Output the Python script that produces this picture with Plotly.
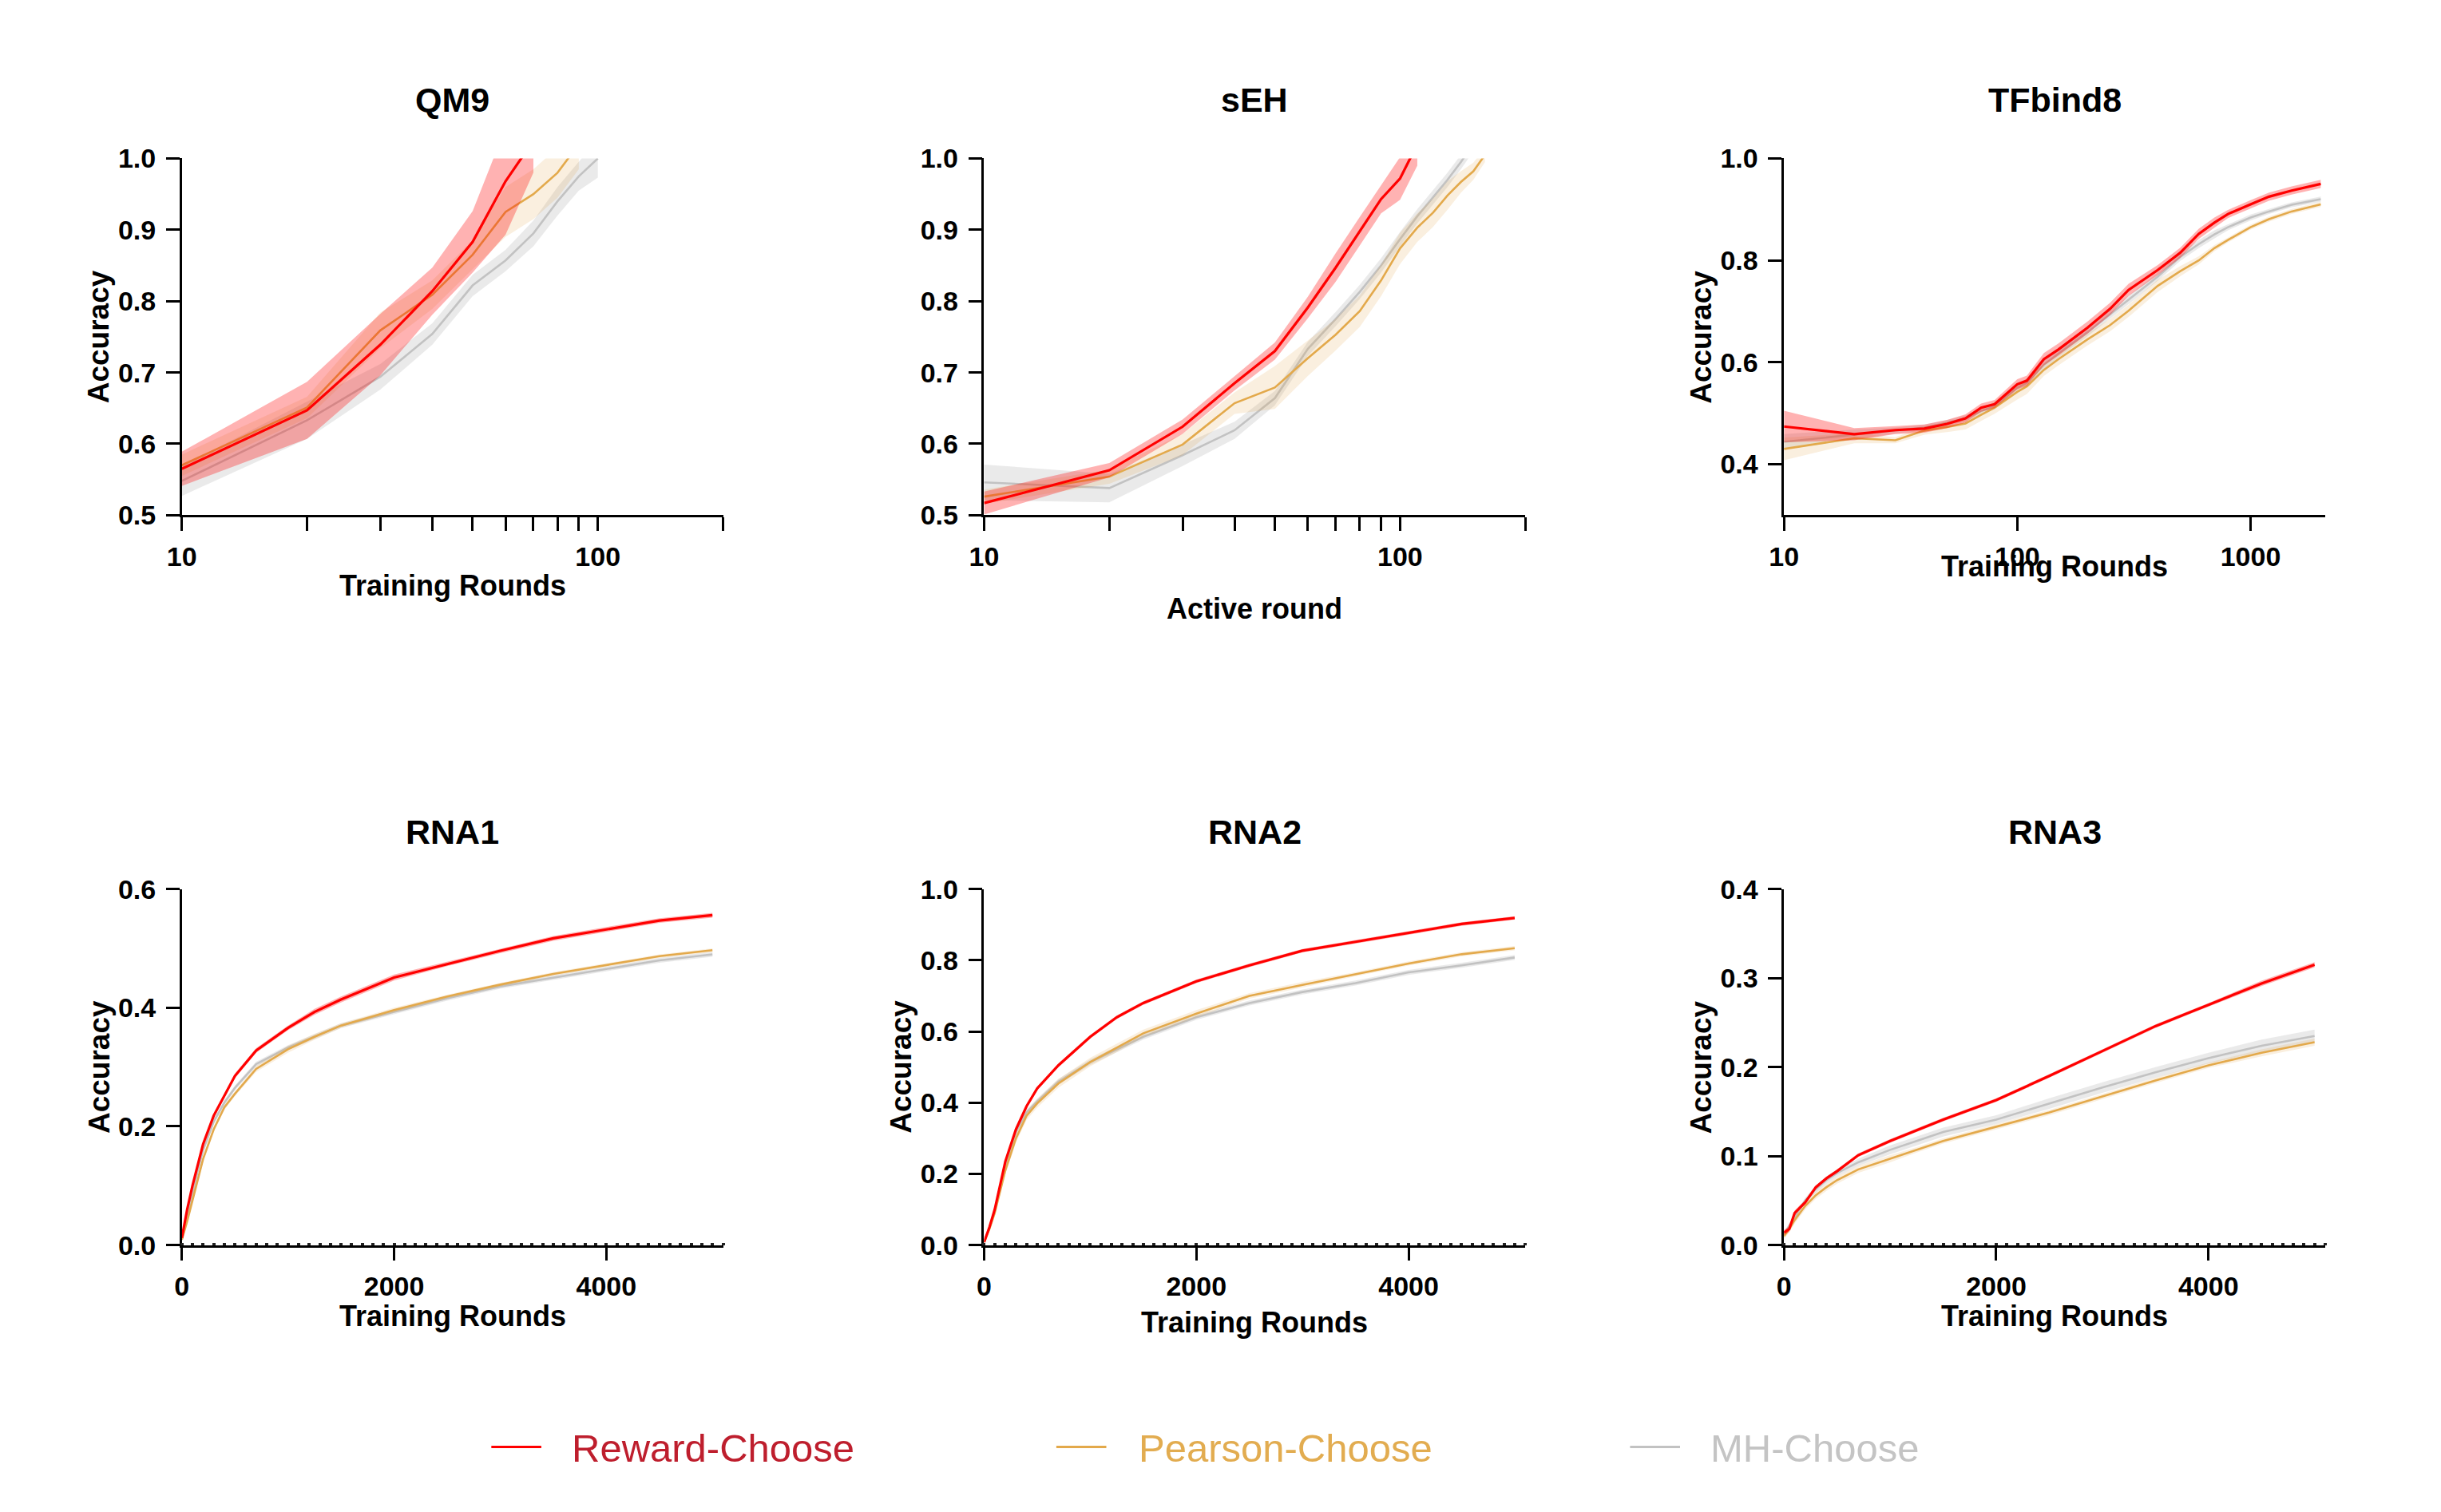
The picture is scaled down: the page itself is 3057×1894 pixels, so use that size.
import math
import plotly.graph_objects as go

W, H = 3057, 1894

methods = ["Reward-Choose", "Pearson-Choose", "MH-Choose"]
line_colors = ["#ff0000", "#e3a94b", "#c2c2c2"]
band_colors = ["rgba(255,0,0,0.30)", "rgba(227,169,75,0.18)", "rgba(191,191,191,0.32)"]
text_colors = ["#be1e2d", "#e2ac50", "#c4c4c4"]

# ---- QM9 (log x) ----
qm9_x = [10, 20, 30, 40, 50, 60, 70, 80, 90, 100]
qm9_reward = [0.565, 0.647, 0.739, 0.814, 0.883, 0.968, 1.025, None, None, None]
qm9_reward_sd = [0.024, 0.040, 0.043, 0.033, 0.043, 0.075, 0.045, None, None, None]
qm9_pearson = [0.570, 0.651, 0.759, 0.809, 0.865, 0.925, 0.950, 0.980, 1.020, None]
qm9_pearson_sd = [0.015, 0.015, 0.025, 0.020, 0.020, 0.035, 0.035, 0.035, 0.035, None]
qm9_mh = [0.548, 0.633, 0.694, 0.754, 0.822, 0.857, 0.895, 0.940, 0.975, 1.000]
qm9_mh_sd = [0.021, 0.026, 0.018, 0.015, 0.015, 0.015, 0.018, 0.020, 0.020, 0.027]

# ---- sEH (log x) ----
seh_x = [10, 20, 30, 40, 50, 60, 70, 80, 90, 100, 110, 120, 130, 140, 150, 160]
seh_reward = [0.517, 0.563, 0.624, 0.685, 0.730, 0.791, 0.847, 0.898, 0.943, 0.972, 1.020,
              None, None, None, None, None]
seh_reward_sd = [0.016, 0.010, 0.010, 0.010, 0.012, 0.015, 0.020, 0.020, 0.020, 0.030, 0.030,
                 None, None, None, None, None]
seh_pearson = [0.526, 0.554, 0.599, 0.657, 0.679, 0.720, 0.753, 0.786, 0.829, 0.874, 0.903,
               0.924, 0.948, 0.967, 0.982, 1.005]
seh_pearson_sd = [0.010, 0.010, 0.015, 0.015, 0.030, 0.025, 0.022, 0.022, 0.022, 0.022, 0.020,
                  0.020, 0.020, 0.015, 0.012, 0.010]
seh_mh = [0.546, 0.538, 0.584, 0.619, 0.664, 0.733, 0.775, 0.813, 0.850, 0.887, 0.919,
          0.945, 0.970, 0.995, 1.020, None]
seh_mh_sd = [0.025, 0.020, 0.015, 0.012, 0.010, 0.010, 0.010, 0.010, 0.010, 0.010, 0.010,
             0.010, 0.010, 0.010, 0.010, None]

# ---- TFbind8 (log x) ----
tf_x = [10, 20, 30, 40, 50, 60, 70, 80, 100, 110, 130, 150, 200, 250, 300, 400, 500,
        600, 700, 800, 1000, 1200, 1500, 2000]
tf_reward = [0.474, 0.459, 0.467, 0.470, 0.479, 0.490, 0.511, 0.518, 0.557, 0.564, 0.606,
             0.625, 0.668, 0.705, 0.742, 0.781, 0.815, 0.852, 0.874, 0.891, 0.910, 0.925,
             0.937, 0.950]
tf_reward_sd = [0.031, 0.012, 0.008, 0.008, 0.008, 0.008, 0.008, 0.008, 0.010, 0.010, 0.012,
                0.012, 0.012, 0.012, 0.012, 0.010, 0.010, 0.010, 0.010, 0.008, 0.008, 0.008,
                0.008, 0.008]
tf_pearson = [0.430, 0.451, 0.447, 0.466, 0.473, 0.480, 0.497, 0.511, 0.542, 0.553, 0.585,
              0.606, 0.645, 0.673, 0.701, 0.750, 0.779, 0.800, 0.824, 0.840, 0.865, 0.881,
              0.896, 0.910]
tf_pearson_sd = [0.022, 0.010, 0.006, 0.008, 0.010, 0.012, 0.012, 0.012, 0.015, 0.015, 0.012,
                 0.012, 0.012, 0.012, 0.012, 0.012, 0.010, 0.008, 0.006, 0.005, 0.005, 0.005,
                 0.005, 0.005]
tf_mh = [0.444, 0.458, 0.466, 0.472, 0.481, 0.490, 0.504, 0.514, 0.550, 0.560, 0.595,
         0.617, 0.659, 0.694, 0.722, 0.768, 0.807, 0.832, 0.851, 0.865, 0.884, 0.896,
         0.909, 0.920]
tf_mh_sd = [0.015, 0.010, 0.006, 0.006, 0.006, 0.006, 0.006, 0.006, 0.008, 0.008, 0.008,
            0.008, 0.008, 0.008, 0.008, 0.008, 0.008, 0.008, 0.008, 0.006, 0.006, 0.005,
            0.005, 0.005]

# ---- RNA tasks (linear x) ----
rna_x = [0, 50, 100, 150, 200, 300, 400, 500, 700, 1000, 1250, 1500, 2000, 2500, 3000,
         3500, 4000, 4500, 5000]

rna1_reward = [0.012, 0.060, 0.100, 0.135, 0.170, 0.218, 0.252, 0.285, 0.328, 0.366, 0.393,
               0.414, 0.451, 0.474, 0.496, 0.517, 0.532, 0.547, 0.556]
rna1_reward_sd = [0.002, 0.004, 0.004, 0.004, 0.004, 0.004, 0.004, 0.004, 0.004, 0.004, 0.005,
                  0.005, 0.005, 0.004, 0.004, 0.004, 0.004, 0.004, 0.004]
rna1_pearson = [0.009, 0.040, 0.075, 0.110, 0.145, 0.195, 0.232, 0.255, 0.297, 0.330, 0.351,
                0.370, 0.396, 0.419, 0.439, 0.457, 0.472, 0.487, 0.497]
rna1_pearson_sd = [0.002, 0.004, 0.004, 0.004, 0.004, 0.004, 0.004, 0.004, 0.005, 0.006, 0.005,
                   0.004, 0.004, 0.003, 0.003, 0.003, 0.003, 0.003, 0.003]
rna1_mh = [0.009, 0.045, 0.085, 0.125, 0.160, 0.208, 0.240, 0.265, 0.305, 0.333, 0.351,
           0.370, 0.393, 0.416, 0.436, 0.451, 0.466, 0.480, 0.490]
rna1_mh_sd = [0.002, 0.004, 0.004, 0.004, 0.004, 0.004, 0.004, 0.004, 0.004, 0.004, 0.004,
              0.004, 0.004, 0.004, 0.004, 0.004, 0.004, 0.004, 0.004]

rna2_reward = [0.008, 0.050, 0.100, 0.170, 0.235, 0.325, 0.390, 0.440, 0.505, 0.585, 0.640,
               0.680, 0.741, 0.786, 0.827, 0.852, 0.877, 0.902, 0.919]
rna2_reward_sd = [0.002, 0.004, 0.005, 0.005, 0.005, 0.005, 0.005, 0.005, 0.005, 0.005, 0.005,
                  0.005, 0.005, 0.005, 0.005, 0.005, 0.005, 0.005, 0.005]
rna2_pearson = [0.008, 0.045, 0.090, 0.150, 0.210, 0.300, 0.363, 0.398, 0.454, 0.514, 0.554,
                0.595, 0.650, 0.700, 0.731, 0.761, 0.791, 0.817, 0.834]
rna2_pearson_sd = [0.002, 0.005, 0.008, 0.010, 0.012, 0.012, 0.012, 0.012, 0.012, 0.012, 0.012,
                   0.010, 0.010, 0.008, 0.008, 0.006, 0.006, 0.006, 0.006]
rna2_mh = [0.008, 0.048, 0.096, 0.160, 0.222, 0.318, 0.373, 0.403, 0.459, 0.514, 0.549,
           0.585, 0.640, 0.680, 0.711, 0.736, 0.766, 0.786, 0.808]
rna2_mh_sd = [0.002, 0.005, 0.008, 0.008, 0.008, 0.008, 0.008, 0.008, 0.008, 0.008, 0.008,
              0.008, 0.007, 0.007, 0.007, 0.007, 0.007, 0.007, 0.007]

rna3_reward = [0.014, 0.018, 0.036, 0.042, 0.048, 0.065, 0.075, 0.083, 0.101, 0.117, 0.129,
               0.141, 0.163, 0.190, 0.218, 0.246, 0.270, 0.294, 0.315]
rna3_reward_sd = [0.003, 0.003, 0.003, 0.003, 0.002, 0.002, 0.002, 0.002, 0.002, 0.002, 0.002,
                  0.002, 0.002, 0.002, 0.002, 0.002, 0.002, 0.003, 0.003]
rna3_pearson = [0.010, 0.018, 0.028, 0.036, 0.044, 0.056, 0.065, 0.073, 0.085, 0.097, 0.107,
                0.117, 0.133, 0.149, 0.167, 0.185, 0.202, 0.216, 0.228]
rna3_pearson_sd = [0.003, 0.004, 0.004, 0.004, 0.004, 0.004, 0.004, 0.004, 0.004, 0.004, 0.003,
                   0.003, 0.003, 0.003, 0.003, 0.003, 0.003, 0.004, 0.004]
rna3_mh = [0.012, 0.022, 0.032, 0.041, 0.050, 0.063, 0.073, 0.081, 0.093, 0.107, 0.117,
           0.127, 0.141, 0.159, 0.177, 0.194, 0.210, 0.224, 0.235]
rna3_mh_sd = [0.003, 0.003, 0.003, 0.003, 0.003, 0.004, 0.004, 0.004, 0.004, 0.005, 0.005,
              0.005, 0.005, 0.006, 0.006, 0.006, 0.006, 0.007, 0.007]

log_tickvals = [10, 20, 30, 40, 50, 60, 70, 80, 90, 100, 200]
log_ticktext = ["10", "", "", "", "", "", "", "", "", "100", ""]

panels = [
    dict(title="QM9", x=qm9_x, series=[(qm9_reward, qm9_reward_sd), (qm9_pearson, qm9_pearson_sd), (qm9_mh, qm9_mh_sd)],
         xlabel="Training Rounds", ylabel="Accuracy"),
    dict(title="sEH", x=seh_x, series=[(seh_reward, seh_reward_sd), (seh_pearson, seh_pearson_sd), (seh_mh, seh_mh_sd)],
         xlabel="Active round", ylabel=None),
    dict(title="TFbind8", x=tf_x, series=[(tf_reward, tf_reward_sd), (tf_pearson, tf_pearson_sd), (tf_mh, tf_mh_sd)],
         xlabel="Training Rounds", ylabel="Accuracy"),
    dict(title="RNA1", x=rna_x, series=[(rna1_reward, rna1_reward_sd), (rna1_pearson, rna1_pearson_sd), (rna1_mh, rna1_mh_sd)],
         xlabel="Training Rounds", ylabel="Accuracy"),
    dict(title="RNA2", x=rna_x, series=[(rna2_reward, rna2_reward_sd), (rna2_pearson, rna2_pearson_sd), (rna2_mh, rna2_mh_sd)],
         xlabel="Training Rounds", ylabel="Accuracy"),
    dict(title="RNA3", x=rna_x, series=[(rna3_reward, rna3_reward_sd), (rna3_pearson, rna3_pearson_sd), (rna3_mh, rna3_mh_sd)],
         xlabel="Training Rounds", ylabel="Accuracy"),
]

# pixel boxes of each plot area: (left, right), (top, bottom)
col_px = [(202, 884), (1213, 1895), (2221, 2903)]
row_px = [(175, 631), (1109, 1564)]
title_y = [100, 1036]
xlabel_y = [721, 751, 696, 1655, 1663, 1655]
ylabel_x = [98, 1109, 2117]

FONT = "Liberation Sans, Arial, sans-serif"
tick_font = dict(family=FONT, size=34, color="black", weight="bold")


def px2x(p):
    return p / W


def px2y(p):
    return 1 - p / H


fig = go.Figure()

for i, p in enumerate(panels):
    n = i + 1
    xa = "x" if n == 1 else f"x{n}"
    ya = "y" if n == 1 else f"y{n}"
    # MH first, Reward last so the red curve sits on top
    for k in [2, 1, 0]:
        mean, sd = p["series"][k]
        pts = [(a, m, s) for a, m, s in zip(p["x"], mean, sd) if m is not None]
        xs = [q[0] for q in pts]
        ms = [q[1] for q in pts]
        hi = [q[1] + q[2] for q in pts]
        lo = [q[1] - q[2] for q in pts]
        fig.add_trace(go.Scatter(x=xs + xs[::-1], y=hi + lo[::-1], fill="toself",
                                 fillcolor=band_colors[k], line=dict(width=0), mode="lines",
                                 hoverinfo="skip", showlegend=False, xaxis=xa, yaxis=ya))
        fig.add_trace(go.Scatter(x=xs, y=ms, mode="lines", name=methods[k],
                                 line=dict(color=line_colors[k], width=3.2 if k == 0 else 2.6),
                                 showlegend=False, xaxis=xa, yaxis=ya))

layout = dict(width=W, height=H, margin=dict(l=0, r=0, t=0, b=0),
              plot_bgcolor="white", paper_bgcolor="white", showlegend=False)

ranges_y = [[0.5, 1.0], [0.5, 1.0], [0.3, 1.0], [0, 0.6], [0, 1.0], [0, 0.4]]
dticks_y = [0.1, 0.1, 0.2, 0.2, 0.2, 0.1]

annotations = []
for i, p in enumerate(panels):
    n = i + 1
    r, c = divmod(i, 3)
    l, rr = col_px[c]
    t, b = row_px[r]
    axis_common = dict(showline=True, linecolor="black", linewidth=2.5, ticks="outside",
                       ticklen=17, tickwidth=2.5, tickcolor="black", showgrid=False,
                       zeroline=False, tickfont=tick_font, fixedrange=True)
    xkey = "xaxis" if n == 1 else f"xaxis{n}"
    ykey = "yaxis" if n == 1 else f"yaxis{n}"
    yname = "y" if n == 1 else f"y{n}"
    xname = "x" if n == 1 else f"x{n}"
    xax = dict(axis_common, domain=[px2x(l), px2x(rr)], anchor=yname, ticklabelstandoff=3)
    if i < 2:
        xax.update(type="log", range=[1, math.log10(200)], tickmode="array",
                   tickvals=log_tickvals, ticktext=log_ticktext)
    elif i == 2:
        xax.update(type="log", range=[1, 3.32], tickmode="array",
                   tickvals=[10, 100, 1000], ticktext=["10", "100", "1000"])
    else:
        xax.update(range=[0, 5100], tickmode="linear", tick0=0, dtick=2000,
                   minor=dict(dtick=100, ticks="inside", ticklen=3, tickwidth=4,
                              tickcolor="#222222"))
    yax = dict(axis_common, domain=[px2y(b), px2y(t)], anchor=xname,
               range=ranges_y[i], tickmode="linear", tick0=0, dtick=dticks_y[i],
               tickformat=".1f", ticklabelstandoff=6)
    layout[xkey] = xax
    layout[ykey] = yax

    annotations.append(dict(text=f"<b>{p['title']}</b>", x=px2x((l + rr) / 2), y=px2y(title_y[r]),
                            xref="paper", yref="paper", showarrow=False, xanchor="center",
                            yanchor="middle", font=dict(family=FONT, size=43, color="black")))
    annotations.append(dict(text=f"<b>{p['xlabel']}</b>", x=px2x((l + rr) / 2), y=px2y(xlabel_y[i]),
                            xref="paper", yref="paper", showarrow=False, xanchor="center",
                            yanchor="middle", font=dict(family=FONT, size=36, color="black")))
    if p["ylabel"]:
        annotations.append(dict(text=f"<b>{p['ylabel']}</b>", x=px2x(ylabel_x[c]), y=px2y((t + b) / 2),
                                xref="paper", yref="paper", showarrow=False, textangle=-90,
                                xanchor="center", yanchor="middle",
                                font=dict(family=FONT, size=37, color="black")))

# legend drawn by hand along the bottom
legend_line_x = [(592, 655), (1304, 1367), (2027, 2090)]
legend_text_x = [691, 1406, 2126]
legend_y = 1822
shapes = []
for k in range(3):
    x0, x1 = legend_line_x[k]
    shapes.append(dict(type="line", xref="paper", yref="paper", x0=px2x(x0), x1=px2x(x1),
                       y0=px2y(legend_y), y1=px2y(legend_y),
                       line=dict(color=line_colors[k], width=3)))
    annotations.append(dict(text=methods[k], x=px2x(legend_text_x[k]), y=px2y(legend_y + 2),
                            xref="paper", yref="paper", showarrow=False, xanchor="left",
                            yanchor="middle", font=dict(family=FONT, size=49, color=text_colors[k])))

layout["annotations"] = annotations
layout["shapes"] = shapes
fig.update_layout(**layout)

fig.write_html("out.html")
